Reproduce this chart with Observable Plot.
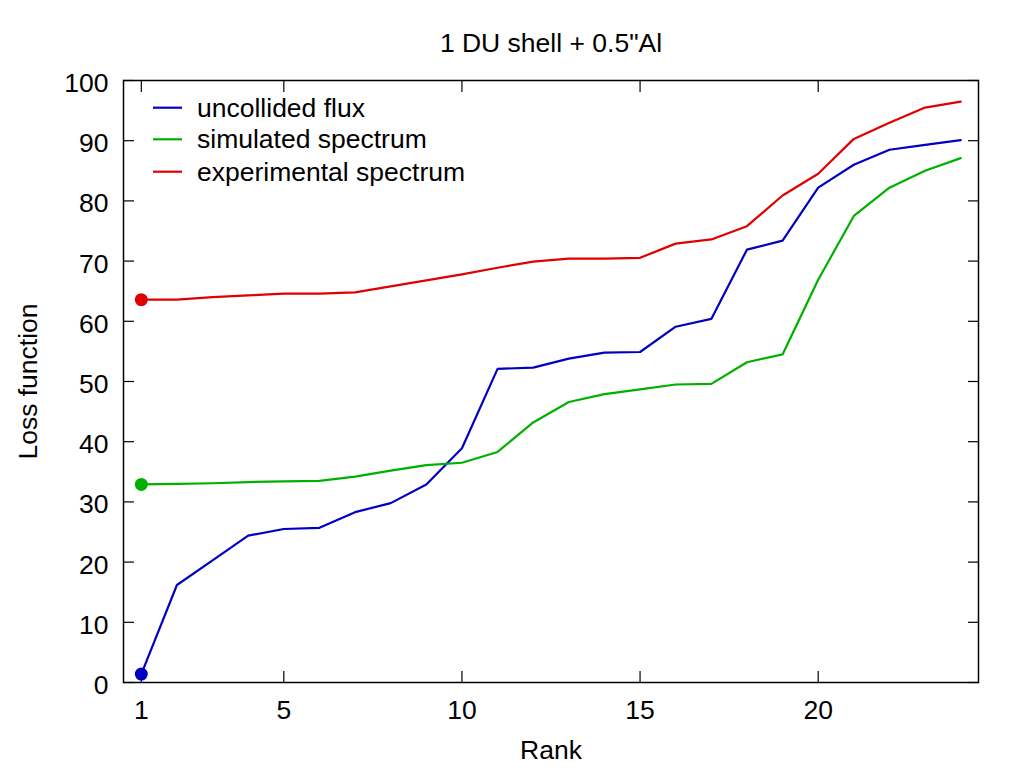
<!DOCTYPE html>
<html>
<head>
<meta charset="utf-8">
<script src="https://cdn.jsdelivr.net/npm/d3@7"></script>
<script src="https://cdn.jsdelivr.net/npm/@observablehq/plot@0.6"></script>
<style>
  body { margin: 0; background: #fff; }
  #wrap { position: relative; width: 1024px; height: 768px; font-family: "Liberation Sans", Arial, Helvetica, sans-serif; }
  #legend { position: absolute; left: 0; top: 0; }
</style>
</head>
<body>
<div id="wrap"></div>
<script>
const title = '1 DU shell + 0.5"Al';
const xLabel = "Rank";
const yLabel = "Loss function";

const rank = [1, 2, 3, 4, 5, 6, 7, 8, 9, 10, 11, 12, 13, 14, 15, 16, 17, 18, 19, 20, 21, 22, 23, 24];
const uncollided = [1.4, 16.2, 20.3, 24.4, 25.5, 25.7, 28.3, 29.8, 32.9, 38.9, 52.1, 52.3, 53.8, 54.8, 54.9, 59.1, 60.4, 71.9, 73.4, 82.2, 86.0, 88.5, 89.3, 90.1];
const simulated = [32.9, 33.0, 33.1, 33.3, 33.4, 33.5, 34.2, 35.2, 36.1, 36.5, 38.3, 43.2, 46.6, 47.9, 48.7, 49.5, 49.6, 53.2, 54.5, 66.9, 77.5, 82.2, 85.0, 87.1];
const experimental = [63.6, 63.6, 64.0, 64.3, 64.6, 64.6, 64.8, 65.8, 66.8, 67.8, 68.9, 69.9, 70.4, 70.4, 70.55, 72.9, 73.6, 75.8, 80.9, 84.5, 90.3, 93.0, 95.5, 96.5];

const seriesNames = ["uncollided flux", "simulated spectrum", "experimental spectrum"];
const seriesColors = ["#0000c0", "#00b000", "#e00000"];
const xTicks = [1, 5, 10, 15, 20];
const yTicks = [0, 10, 20, 30, 40, 50, 60, 70, 80, 90, 100];

const rows = [];
[uncollided, simulated, experimental].forEach((vals, s) =>
  vals.forEach((v, i) => rows.push({rank: rank[i], value: v, series: seriesNames[s]}))
);
const firsts = rows.filter(d => d.rank === rank[0]);

const font = '"Liberation Sans", Arial, Helvetica, sans-serif';
const fs = 26.5;

const plot = Plot.plot({
  width: 1024,
  height: 768,
  marginLeft: 123,
  marginRight: 46,
  marginTop: 80,
  marginBottom: 86,
  style: {fontFamily: font, fontSize: fs + "px", background: "white", color: "black", overflow: "visible"},
  x: {domain: [0.5, 24.5]},
  y: {domain: [0, 100]},
  color: {domain: seriesNames, range: seriesColors},
  marks: [
    // inward ticks on all four sides
    Plot.axisX(xTicks, {anchor: "bottom", tickSize: -11, fill: "none", label: null, strokeWidth: 1.2}),
    Plot.axisX(xTicks, {anchor: "top", tickSize: -11, fill: "none", label: null, strokeWidth: 1.2}),
    Plot.axisY(yTicks, {anchor: "left", tickSize: -11, fill: "none", label: null, strokeWidth: 1.2}),
    Plot.axisY(yTicks, {anchor: "right", tickSize: -11, fill: "none", label: null, strokeWidth: 1.2}),
    // tick labels
    Plot.axisX(xTicks, {anchor: "bottom", tickSize: 0, tickPadding: 18, label: null, fontSize: fs}),
    Plot.axisY(yTicks, {anchor: "left", tickSize: 0, tickPadding: 15, label: null, dy: 3, fontSize: fs}),
    // data
    Plot.line(rows, {x: "rank", y: "value", z: "series", stroke: "series", strokeWidth: 2.2}),
    Plot.dot(firsts, {x: "rank", y: "value", fill: "series", r: 6.5}),
    Plot.frame({stroke: "black", strokeWidth: 1.5}),
    // titles
    Plot.text([title], {frameAnchor: "top", dy: -29, lineAnchor: "bottom", fontSize: fs}),
    Plot.text([xLabel], {frameAnchor: "bottom", dy: 76, lineAnchor: "bottom", fontSize: fs}),
    Plot.text([yLabel], {frameAnchor: "left", dx: -87, rotate: -90, lineAnchor: "bottom", textAnchor: "middle", fontSize: fs})
  ]
});

const wrap = document.getElementById("wrap");
wrap.appendChild(plot);

// legend
const legend = d3.select(wrap).append("svg")
  .attr("id", "legend")
  .attr("width", 520)
  .attr("height", 200)
  .style("font-family", font)
  .style("font-size", fs + "px");
const legendY = [107.7, 139.3, 171.7];
seriesNames.forEach((name, i) => {
  legend.append("line")
    .attr("x1", 153).attr("x2", 182)
    .attr("y1", legendY[i]).attr("y2", legendY[i])
    .attr("stroke", seriesColors[i]).attr("stroke-width", 2.2);
  legend.append("text")
    .attr("x", 197).attr("y", legendY[i] + 9)
    .attr("fill", "black")
    .text(name);
});
</script>
</body>
</html>
